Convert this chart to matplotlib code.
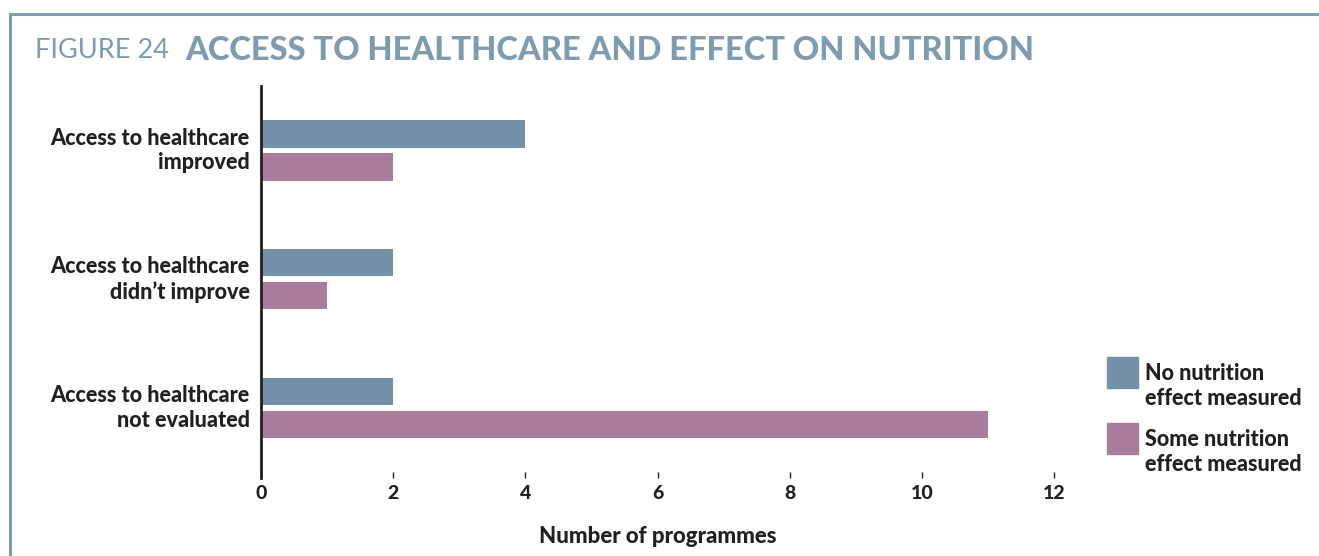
import matplotlib.pyplot as plt
from matplotlib.lines import Line2D
from matplotlib.patches import Rectangle

categories = ['Access to healthcare\nimproved',
              "Access to healthcare\ndidn\u2019t improve",
              'Access to healthcare\nnot evaluated']
no_effect = [4, 2, 2]
some_effect = [2, 1, 11]
series_labels = ['No nutrition\neffect measured', 'Some nutrition\neffect measured']
xticks = [0, 2, 4, 6, 8, 10, 12]

blue = '#7391a6'
pink = '#a87c9b'
frame = '#7f9bb0'
dark = '#231f20'

plt.rcParams['font.family'] = ['Lato', 'DejaVu Sans']

fig = plt.figure(figsize=(13.19, 5.56), dpi=100)
W, H = 1319, 556

# frame lines at top and left
fig.add_artist(Line2D([10 / W, 1], [1 - 14 / H, 1 - 14 / H], color=frame, lw=2.2))
fig.add_artist(Line2D([10 / W, 10 / W], [0, 1 - 14 / H], color=frame, lw=2.2))

fig.text(35 / W, 1 - 51 / H, 'FIGURE 24', fontsize=19.5, fontweight='normal',
         color=frame, va='center', ha='left')
fig.text(185 / W, 1 - 51 / H, 'ACCESS TO HEALTHCARE AND EFFECT ON NUTRITION',
         fontsize=23.5, fontweight='black', color=frame, va='center', ha='left')

ax = fig.add_axes([261 / W, 1 - 478 / H, (1054 - 261) / W, (478 - 86) / H])
ypos = list(range(len(categories)))
h = 0.21
ax.barh([y - 0.128 for y in ypos], no_effect, height=h, color=blue)
ax.barh([y + 0.128 for y in ypos], some_effect, height=h, color=pink)

ax.set_xlim(0, 12)
ax.set_ylim(2.54, -0.5)
for s in ['top', 'right', 'bottom']:
    ax.spines[s].set_visible(False)
ax.spines['left'].set_color(dark)
ax.spines['left'].set_linewidth(2)

ax.set_yticks(ypos)
ax.set_yticklabels(categories, fontsize=15.5, fontweight='black', color=dark,
                   linespacing=1.22, va='center')
for t in ax.get_yticklabels():
    t.set_y(t.get_position()[1])
ax.tick_params(axis='y', length=0, pad=8)
ax.set_xticks(xticks)
ax.set_xticklabels([str(t) for t in xticks], fontsize=14, fontweight='black', color=dark)
ax.tick_params(axis='x', length=4, width=1, color=dark, direction='in', pad=5)
ax.set_xlabel('Number of programmes', fontsize=16, fontweight='black', color=dark, labelpad=17)

# legend
for i, (lab, col) in enumerate(zip(series_labels, [blue, pink])):
    y0 = 357 + i * 66
    fig.add_artist(Rectangle((1107 / W, 1 - (y0 + 31) / H), 31 / W, 31 / H,
                             color=col, transform=fig.transFigure))
    fig.text(1145 / W, 1 - (y0 + 29) / H, lab, fontsize=15.5, fontweight='black',
             color=dark, va='center', ha='left', linespacing=1.2)

fig.savefig('out.png', dpi=100)
